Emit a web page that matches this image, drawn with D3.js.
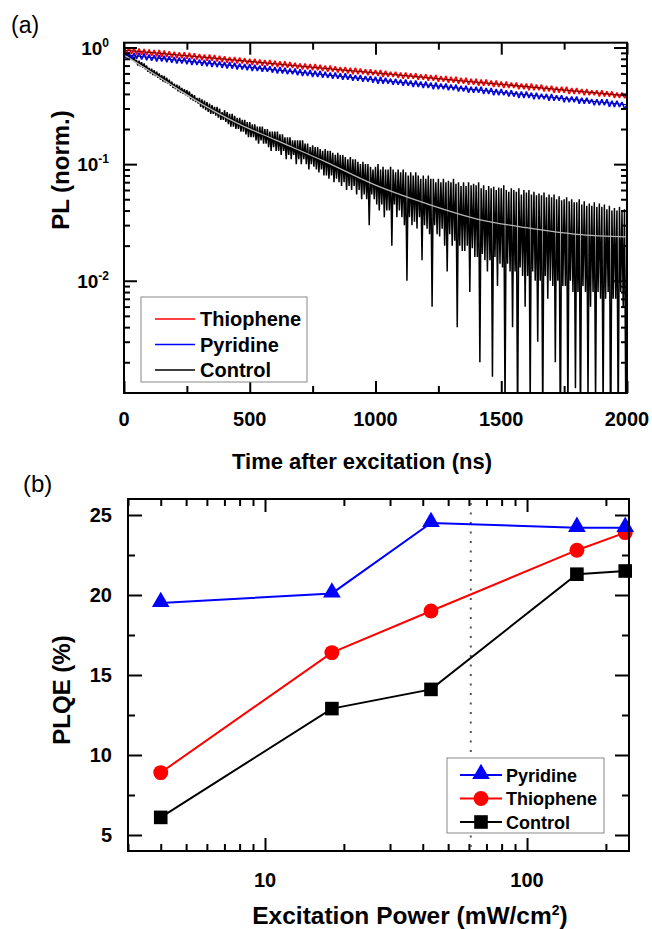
<!DOCTYPE html>
<html><head><meta charset="utf-8">
<script src="https://cdn.jsdelivr.net/npm/d3@7"></script>
<style>body{margin:0;background:#fff}svg{display:block}</style>
</head><body>
<svg id="c" width="652" height="929"></svg>
<script>
// ---------- Panel (a) data: PL transients (time steps in ns) ----------
const dopedStepNs = 10;    // Thiophene / Pyridine sampled every 10 ns
const controlStepNs = 5;   // Control sampled every 5 ns
const thiopheneOnset = 0.10;
const pyridineOnset = 0.065;
const thiophenePL = [
1.00,0.89,1.00,0.88,0.99,0.87,0.98,0.87,0.97,0.86,
0.96,0.85,0.95,0.84,0.95,0.83,0.94,0.83,0.93,0.82,
0.92,0.81,0.91,0.81,0.91,0.80,0.90,0.80,0.89,0.79,
0.88,0.78,0.87,0.77,0.87,0.77,0.86,0.76,0.85,0.75,
0.84,0.74,0.83,0.74,0.83,0.73,0.82,0.73,0.81,0.72,
0.80,0.71,0.80,0.71,0.79,0.70,0.78,0.70,0.78,0.69,
0.77,0.68,0.76,0.68,0.76,0.67,0.75,0.67,0.74,0.66,
0.73,0.65,0.73,0.65,0.72,0.64,0.72,0.64,0.71,0.63,
0.70,0.62,0.70,0.62,0.69,0.61,0.68,0.61,0.68,0.60,
0.67,0.59,0.67,0.59,0.66,0.59,0.65,0.58,0.65,0.58,
0.64,0.57,0.64,0.56,0.63,0.56,0.62,0.56,0.62,0.55,
0.61,0.54,0.61,0.54,0.60,0.54,0.60,0.53,0.59,0.53,
0.59,0.52,0.58,0.52,0.58,0.51,0.57,0.51,0.57,0.50,
0.56,0.50,0.56,0.49,0.55,0.49,0.55,0.48,0.54,0.48,
0.54,0.47,0.53,0.47,0.53,0.47,0.52,0.46,0.52,0.46,
0.51,0.45,0.51,0.45,0.50,0.45,0.50,0.44,0.49,0.44,
0.49,0.43,0.49,0.43,0.48,0.43,0.48,0.42,0.47,0.42,
0.47,0.41,0.46,0.41,0.46,0.41,0.46,0.40,0.45,0.40,
0.45,0.40,0.44,0.39,0.44,0.39,0.43,0.39,0.43,0.38,
0.43,0.38,0.42,0.38,0.42,0.37,0.41,0.37,0.41,0.37,
0.39];
const pyridinePL = [
0.92,0.81,0.91,0.80,0.90,0.80,0.90,0.79,0.89,0.78,
0.87,0.77,0.86,0.76,0.86,0.76,0.85,0.75,0.84,0.74,
0.83,0.73,0.82,0.73,0.82,0.72,0.81,0.71,0.80,0.71,
0.79,0.70,0.78,0.69,0.78,0.68,0.77,0.68,0.76,0.67,
0.75,0.66,0.75,0.66,0.74,0.65,0.73,0.65,0.72,0.64,
0.72,0.63,0.71,0.63,0.70,0.62,0.70,0.62,0.69,0.61,
0.68,0.60,0.68,0.60,0.67,0.59,0.66,0.59,0.66,0.58,
0.65,0.57,0.64,0.57,0.64,0.56,0.63,0.56,0.63,0.55,
0.62,0.55,0.61,0.54,0.61,0.54,0.60,0.53,0.60,0.53,
0.59,0.52,0.58,0.52,0.58,0.51,0.57,0.51,0.57,0.50,
0.56,0.49,0.56,0.49,0.55,0.49,0.54,0.48,0.54,0.48,
0.53,0.47,0.53,0.47,0.52,0.46,0.52,0.46,0.51,0.45,
0.51,0.45,0.50,0.44,0.50,0.44,0.49,0.44,0.49,0.43,
0.48,0.43,0.48,0.42,0.47,0.42,0.47,0.41,0.46,0.41,
0.46,0.41,0.46,0.40,0.45,0.40,0.45,0.39,0.44,0.39,
0.44,0.39,0.43,0.38,0.43,0.38,0.42,0.37,0.42,0.37,
0.42,0.37,0.41,0.36,0.41,0.36,0.40,0.36,0.40,0.35,
0.40,0.35,0.39,0.35,0.39,0.34,0.38,0.34,0.38,0.34,
0.38,0.33,0.37,0.33,0.37,0.33,0.36,0.32,0.36,0.32,
0.36,0.32,0.36,0.31,0.35,0.31,0.35,0.31,0.34,0.30,
0.32];
const controlPL = [
0.90,0.82,0.89,0.80,0.87,0.79,0.85,0.77,0.83,0.75,
0.78,0.70,0.77,0.69,0.75,0.67,0.73,0.65,0.70,0.62,
0.67,0.60,0.66,0.58,0.64,0.57,0.62,0.55,0.60,0.53,
0.58,0.51,0.57,0.50,0.55,0.49,0.53,0.47,0.51,0.45,
0.49,0.44,0.48,0.42,0.47,0.41,0.45,0.40,0.44,0.39,
0.43,0.38,0.42,0.36,0.40,0.35,0.39,0.34,0.37,0.33,
0.37,0.31,0.36,0.30,0.35,0.29,0.34,0.28,0.33,0.27,
0.32,0.27,0.31,0.26,0.31,0.25,0.30,0.24,0.28,0.24,
0.29,0.23,0.28,0.22,0.27,0.21,0.27,0.21,0.26,0.20,
0.25,0.20,0.25,0.19,0.24,0.19,0.24,0.18,0.23,0.17,
0.23,0.17,0.22,0.17,0.22,0.16,0.21,0.15,0.21,0.16,
0.21,0.15,0.20,0.15,0.20,0.14,0.19,0.13,0.19,0.14,
0.19,0.13,0.19,0.13,0.18,0.12,0.18,0.13,0.17,0.11,
0.17,0.12,0.17,0.11,0.16,0.12,0.16,0.10,0.16,0.11,
0.16,0.10,0.16,0.11,0.15,0.10,0.15,0.09,0.14,0.10,
0.145,0.095,0.14,0.09,0.14,0.085,0.135,0.09,0.13,0.08,
0.135,0.08,0.13,0.075,0.13,0.08,0.125,0.07,0.12,0.075,
0.125,0.07,0.12,0.065,0.12,0.07,0.115,0.06,0.11,0.065,
0.115,0.06,0.11,0.065,0.11,0.055,0.105,0.06,0.10,0.05,
0.105,0.055,0.10,0.05,0.10,0.03,0.095,0.055,0.09,0.05,
0.095,0.045,0.10,0.04,0.09,0.045,0.095,0.035,0.09,0.04,
0.09,0.04,0.095,0.02,0.09,0.045,0.085,0.035,0.09,0.04,
0.085,0.035,0.09,0.03,0.085,0.01,0.08,0.035,0.085,0.03,
0.08,0.032,0.085,0.028,0.08,0.035,0.075,0.015,0.08,0.03,
0.075,0.028,0.08,0.025,0.075,0.006,0.075,0.03,0.07,0.025,
0.075,0.024,0.07,0.028,0.075,0.02,0.07,0.012,0.072,0.025,
0.07,0.02,0.075,0.022,0.068,0.004,0.07,0.02,0.065,0.018,
0.07,0.018,0.065,0.02,0.07,0.008,0.066,0.019,0.068,0.016,
0.066,0.016,0.07,0.002,0.062,0.017,0.066,0.015,0.06,0.012,
0.065,0.015,0.062,0.0015,0.064,0.016,0.06,0.009,0.063,0.014,
0.062,0.013,0.066,0.0008,0.06,0.014,0.058,0.012,0.062,0.004,
0.06,0.012,0.058,0.0005,0.062,0.013,0.055,0.011,0.06,0.006,
0.057,0.011,0.06,0.0009,0.055,0.012,0.058,0.01,0.054,0.003,
0.056,0.01,0.054,0.0006,0.057,0.011,0.052,0.007,0.055,0.01,
0.052,0.009,0.055,0.002,0.05,0.01,0.053,0.0004,0.049,0.009,
0.05,0.009,0.052,0.0007,0.048,0.01,0.05,0.008,0.047,0.0012,
0.047,0.008,0.05,0.0005,0.045,0.009,0.048,0.008,0.044,0.001,
0.046,0.006,0.044,0.008,0.047,0.0009,0.043,0.008,0.046,0.007,
0.043,0.0008,0.045,0.007,0.041,0.008,0.044,0.0003,0.04,0.007,
0.042,0.007,0.04,0.0006,0.043,0.008,0.039,0.006,0.041,0.0009,
0.03];
// fitted decay curves [time ns, PL]
const thiopheneFit = [[0,0.95],[500,0.76],[1000,0.605],[1500,0.483],[2000,0.386]];
const pyridineFit = [[0,0.865],[500,0.676],[1000,0.528],[1500,0.413],[2000,0.323]];
const controlFit = [[0,0.865],[150,0.54],[300,0.337],[450,0.225],[600,0.162],[800,0.105],[1000,0.066],[1200,0.046],[1400,0.034],[1600,0.0285],[1800,0.025],[2000,0.0238]];
const timeTicks = [0,500,1000,1500,2000];
const plTickExponents = [0,-1,-2];

// ---------- Panel (b) data: PLQE vs excitation power ----------
const powerValues = [4, 18, 43, 155, 237];
const pyridinePLQE = [19.5, 20.1, 24.5, 24.2, 24.2];
const thiophenePLQE = [8.9, 16.4, 19.0, 22.8, 23.9];
const controlPLQE = [6.1, 12.9, 14.1, 21.3, 21.5];
const markerPower = 61;
const plqeTicks = [5,10,15,20,25];
const powerTicks = [10,100];

const FONT = "'Liberation Sans', Arial, Helvetica, sans-serif";
const svg = d3.select("#c");

// ================= Panel (a) =================
const A = {l:124, r:627, t:42.7, b:393};
const xa = d3.scaleLinear().domain([0,2000]).range([A.l, A.r]);
const ya = d3.scaleLog().domain([0.00109, 1.10]).range([A.b, A.t]);

svg.append("defs").append("clipPath").attr("id","clipA")
  .append("rect").attr("x",A.l).attr("y",A.t).attr("width",A.r-A.l).attr("height",A.b-A.t);

const gA = svg.append("g");
const plot = gA.append("g").attr("clip-path","url(#clipA)");
const toPts = (arr, step) => arr.map((v,i)=>[i*step, v]);
const lineA = d3.line().x(d=>xa(d[0])).y(d=>ya(d[1]));
const fitLine = d3.line().x(d=>xa(d[0])).y(d=>ya(d[1])).curve(d3.curveMonotoneX);

plot.append("path").attr("d", lineA(toPts(controlPL, controlStepNs))).attr("fill","none").attr("stroke","#000").attr("stroke-width",1.5).attr("stroke-linejoin","bevel");
plot.append("path").attr("d", lineA([[0,pyridineOnset]].concat(toPts(pyridinePL, dopedStepNs)))).attr("fill","none").attr("stroke","#0000ff").attr("stroke-width",1.6).attr("stroke-linejoin","bevel");
plot.append("path").attr("d", lineA([[0,thiopheneOnset]].concat(toPts(thiophenePL, dopedStepNs)))).attr("fill","none").attr("stroke","#ff0000").attr("stroke-width",1.6).attr("stroke-linejoin","bevel");
plot.append("path").attr("d", fitLine(controlFit)).attr("fill","none").attr("stroke","#b8b8b8").attr("stroke-width",1.3);
plot.append("path").attr("d", fitLine(pyridineFit)).attr("fill","none").attr("stroke","#000090").attr("stroke-width",1);
plot.append("path").attr("d", fitLine(thiopheneFit)).attr("fill","none").attr("stroke","#8b0000").attr("stroke-width",1.3);

// axes (ticks inward)
const axStyle = g => { g.selectAll("path,line").attr("stroke","#000").attr("stroke-width",2); g.select(".domain").remove(); };
gA.append("g").attr("transform",`translate(0,${A.b})`).call(d3.axisBottom(xa).tickValues(d3.range(0,2001,250)).tickSize(-7).tickFormat("")).call(axStyle)
  .selectAll(".tick line").attr("y2", d=> d%500===0 ? -12 : -7);
gA.append("g").attr("transform",`translate(0,${A.t})`).call(d3.axisTop(xa).tickValues(d3.range(0,2001,250)).tickSize(-7).tickFormat("")).call(axStyle)
  .selectAll(".tick line").attr("y2", d=> d%500===0 ? 12 : 7);
const logTicks = [];
[-3,-2,-1,0].forEach(e=>{ for(let m=1;m<10;m++){ const v=m*Math.pow(10,e); if(v>=0.00109 && v<=1.10) logTicks.push({v, major:m===1}); } });
gA.append("g").attr("transform",`translate(${A.l},0)`).call(d3.axisLeft(ya).tickValues(logTicks.map(d=>d.v)).tickSize(-7).tickFormat("")).call(axStyle)
  .selectAll(".tick line").attr("x2",(d,i)=> logTicks[i].major ? 13 : 6);
gA.append("g").attr("transform",`translate(${A.r},0)`).call(d3.axisRight(ya).tickValues(logTicks.map(d=>d.v)).tickSize(-7).tickFormat("")).call(axStyle)
  .selectAll(".tick line").attr("x2",(d,i)=> logTicks[i].major ? -13 : -6);
gA.append("rect").attr("x",A.l).attr("y",A.t).attr("width",A.r-A.l).attr("height",A.b-A.t).attr("fill","none").attr("stroke","#000").attr("stroke-width",2);

// tick labels
gA.selectAll(".xl").data(timeTicks).enter().append("text")
  .attr("x",d=>xa(d)).attr("y",426).attr("text-anchor","middle")
  .style("font",`bold 20px ${FONT}`).text(d=>d);
plTickExponents.forEach(e=>{
  const t = gA.append("text").attr("x",109).attr("y",ya(Math.pow(10,e))+7).attr("text-anchor","end").style("font",`bold 19px ${FONT}`);
  t.append("tspan").text("10");
  t.append("tspan").attr("dy",-8).style("font-size","12px").text(e===0?"0":"-"+(-e));
});
gA.append("text").attr("x",362).attr("y",469).attr("text-anchor","middle").style("font",`bold 22px ${FONT}`).text("Time after excitation (ns)");
gA.append("text").attr("transform","translate(69,170) rotate(-90)").attr("text-anchor","middle").style("font",`bold 24px ${FONT}`).text("PL (norm.)");
svg.append("text").attr("x",11).attr("y",33).style("font",`23px ${FONT}`).text("(a)");

// legend (a)
const legA = [{name:"Thiophene",c:"#ff0000"},{name:"Pyridine",c:"#0000ff"},{name:"Control",c:"#000"}];
gA.append("rect").attr("x",141).attr("y",297).attr("width",166).attr("height",85).attr("fill","#fff").attr("stroke","#888").attr("stroke-width",1);
legA.forEach((d,i)=>{
  const yy = 319 + i*25.5;
  gA.append("line").attr("x1",155).attr("x2",195).attr("y1",yy).attr("y2",yy).attr("stroke",d.c).attr("stroke-width",1.5);
  gA.append("text").attr("x",200).attr("y",yy+7).style("font",`bold 20px ${FONT}`).text(d.name);
});

// ================= Panel (b) =================
const B = {l:128, r:629, t:499, b:851};
const xb = d3.scaleLog().domain([3,245]).range([B.l, B.r]);
const yb = d3.scaleLinear().domain([4,26]).range([B.b, B.t]);
const gB = svg.append("g");

const minorP = [];
[1,10,100].forEach(e=>{ for(let m=1;m<10;m++){ const v=m*e; if(v>=3 && v<=245) minorP.push({v, major:m===1}); } });
gB.append("g").attr("transform",`translate(0,${B.b})`).call(d3.axisBottom(xb).tickValues(minorP.map(d=>d.v)).tickSize(-7).tickFormat("")).call(axStyle)
  .selectAll(".tick line").attr("y2",(d,i)=> minorP[i].major ? -13 : -7);
gB.append("g").attr("transform",`translate(0,${B.t})`).call(d3.axisTop(xb).tickValues(minorP.map(d=>d.v)).tickSize(-7).tickFormat("")).call(axStyle)
  .selectAll(".tick line").attr("y2",(d,i)=> minorP[i].major ? 13 : 7);
const yTicksB = d3.range(5,25.01,2.5);
gB.append("g").attr("transform",`translate(${B.l},0)`).call(d3.axisLeft(yb).tickValues(yTicksB).tickSize(-7).tickFormat("")).call(axStyle)
  .selectAll(".tick line").attr("x2",d=> d%5===0 ? 14 : 7);
gB.append("g").attr("transform",`translate(${B.r},0)`).call(d3.axisRight(yb).tickValues(yTicksB).tickSize(-7).tickFormat("")).call(axStyle)
  .selectAll(".tick line").attr("x2",d=> d%5===0 ? -14 : -7);

gB.append("line").attr("x1",xb(markerPower)).attr("x2",xb(markerPower)).attr("y1",B.t+4).attr("y2",B.b-4)
  .attr("stroke","#555").attr("stroke-width",2).attr("stroke-dasharray","2,7.5");

const seriesB = [
  {name:"Pyridine", vals:pyridinePLQE, c:"#0000ff", m:"tri"},
  {name:"Thiophene", vals:thiophenePLQE, c:"#ff0000", m:"circ"},
  {name:"Control", vals:controlPLQE, c:"#000", m:"sq"}
];
const symGen = {tri: d3.symbol(d3.symbolTriangle, 135), circ: d3.symbol(d3.symbolCircle, 175), sq: d3.symbol(d3.symbolSquare, 185)};
const lineB = d3.line().x(d=>xb(d[0])).y(d=>yb(d[1]));
seriesB.slice().reverse().forEach(s=>{
  const pts = powerValues.map((p,i)=>[p, s.vals[i]]);
  gB.append("path").attr("d",lineB(pts)).attr("fill","none").attr("stroke",s.c).attr("stroke-width",2);
  gB.selectAll(null).data(pts).enter().append("path")
    .attr("transform",d=>`translate(${xb(d[0])},${yb(d[1]) + (s.m==="tri"? -1:0)})`)
    .attr("d",symGen[s.m]()).attr("fill",s.c);
});
gB.append("rect").attr("x",B.l).attr("y",B.t).attr("width",B.r-B.l).attr("height",B.b-B.t).attr("fill","none").attr("stroke","#000").attr("stroke-width",2);

plqeTicks.forEach(v=>{
  gB.append("text").attr("x",112).attr("y",yb(v)+7).attr("text-anchor","end").style("font",`bold 20px ${FONT}`).text(v);
});
powerTicks.forEach(v=>{
  gB.append("text").attr("x",xb(v)).attr("y",887).attr("text-anchor","middle").style("font",`bold 20px ${FONT}`).text(v);
});
const xt = gB.append("text").attr("x",410).attr("y",924).attr("text-anchor","middle").style("font",`bold 24.5px ${FONT}`);
xt.append("tspan").text("Excitation Power (mW/cm");
xt.append("tspan").attr("dy",-9).style("font-size","14px").text("2");
xt.append("tspan").attr("dy",9).text(")");
gB.append("text").attr("transform","translate(70,690) rotate(-90)").attr("text-anchor","middle").style("font",`bold 24px ${FONT}`).text("PLQE (%)");
svg.append("text").attr("x",23).attr("y",492).style("font",`24px ${FONT}`).text("(b)");

// legend (b)
gB.append("rect").attr("x",447).attr("y",758).attr("width",157).attr("height",75).attr("fill","#fff").attr("stroke","#888").attr("stroke-width",1);
seriesB.forEach((s,i)=>{
  const yy = 775 + i*23.5;
  gB.append("line").attr("x1",460).attr("x2",502).attr("y1",yy).attr("y2",yy).attr("stroke",s.c).attr("stroke-width",2);
  gB.append("path").attr("transform",`translate(481,${yy + (s.m==="tri"?-1:0)})`).attr("d",symGen[s.m]()).attr("fill",s.c);
  gB.append("text").attr("x",506).attr("y",yy+6.5).style("font",`bold 18px ${FONT}`).text(s.name);
});
</script>
</body></html>
